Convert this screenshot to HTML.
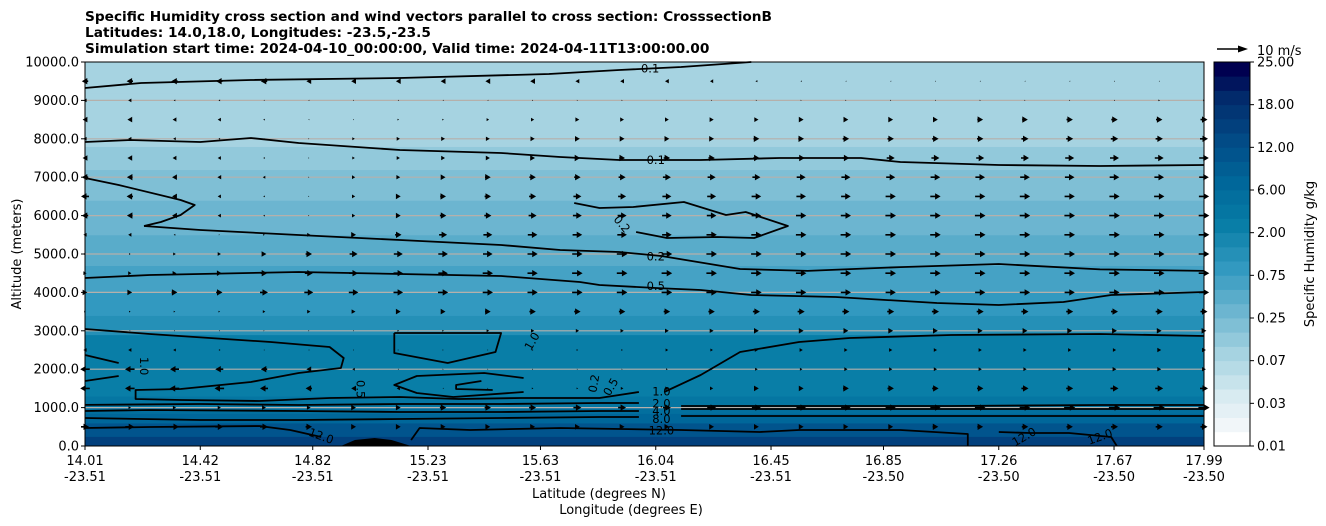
<!DOCTYPE html>
<html><head><meta charset="utf-8">
<style>
html,body{margin:0;padding:0;background:#fff;}
svg{display:block;font-family:"DejaVu Sans","Liberation Sans",sans-serif;}
</style></head>
<body>
<svg id="chart" width="1326" height="526" viewBox="0 0 1326 526" xmlns="http://www.w3.org/2000/svg">
  <g font-size="13.7" font-weight="bold" fill="#000">
    <text x="85" y="21">Specific Humidity cross section and wind vectors parallel to cross section: CrosssectionB</text>
    <text x="85" y="37">Latitudes: 14.0,18.0, Longitudes: -23.5,-23.5</text>
    <text x="85" y="53">Simulation start time: 2024-04-10_00:00:00, Valid time: 2024-04-11T13:00:00.00</text>
  </g>
  <g id="plot"></g>
  <g id="axes"></g>
  <g id="cbar"></g>
  <text x="599" y="498" font-size="13" text-anchor="middle">Latitude (degrees N)</text>
  <text x="631" y="514" font-size="13" text-anchor="middle">Longitude (degrees E)</text>
  <text transform="translate(21,254) rotate(-90)" font-size="13" text-anchor="middle">Altitude (meters)</text>
  <text transform="translate(1314,254) rotate(-90)" font-size="13" text-anchor="middle">Specific Humidity g/kg</text>
  <g>
    <line x1="1217" y1="49" x2="1240" y2="49" stroke="#000" stroke-width="1.6"/>
    <polygon points="1248,49 1238,45.5 1238,52.5" fill="#000"/>
    <text x="1257" y="55" font-size="13">10 m/s</text>
  </g>
</svg>
<script>
// ---- data ----
const levels = [0.01,0.015,0.02,0.03,0.04,0.05,0.07,0.1,0.15,0.25,0.35,0.5,0.75,1,1.5,2,3,4,6,8,10,12,14,16,18,20,22,25];
const cbarTickLabels = ["0.01","0.03","0.07","0.25","0.75","2.00","6.00","12.00","18.00","25.00"];
const cbarTickIdx = [0,3,6,9,12,15,18,21,24,27];
const bandAlt = [0,250,600,850,1000,1300,2200,2900,3400,4000,4700,5500,6400,7200,7800,8300,9200,10000];
const bandQ = [14,10,7,4,3,2.5,2.1,1.2,0.8,0.55,0.4,0.28,0.18,0.12,0.09,0.075,0.08];
const xTickLat = ["14.01","14.42","14.82","15.23","15.63","16.04","16.45","16.85","17.26","17.67","17.99"];
const xTickLon = ["-23.51","-23.51","-23.51","-23.51","-23.51","-23.51","-23.51","-23.50","-23.50","-23.50","-23.50"];
const xTickVal = [14.01,14.42,14.82,15.23,15.63,16.04,16.45,16.85,17.26,17.67,17.99];
const yTickVal = [0,1000,2000,3000,4000,5000,6000,7000,8000,9000,10000];
const windAlt = [9500,9000,8500,8000,7500,7000,6500,6000,5500,5000,4500,4000,3500,3000,2500,2000,1500,1000,500];
const windU = [
[-2,-2,-2,-2,-2,-1.5,-1.5,-1.5,-1.5,-1.5,-1.5,-1.2,-1.2,-1.2,-1,-0.6,-0.4,-0.3,-0.3,-0.3,-0.3,-0.3,-0.3,-0.3,-0.3,-0.3],
[-1,-1,-0.5,-0.5,-0.3,-0.3,-0.3,-0.3,-0.3,-0.3,0.3,0.3,0.3,0.3,0.3,0.3,0.3,0.3,0.3,0.3,0.3,0.3,0.3,0.3,0.5,0.5],
[-1.5,-1.5,-1.2,-1,-0.5,-0.3,0.3,0.5,0.5,0.8,1,1.2,1.2,1.2,1.3,1.3,1.5,1.5,1.5,1.5,1.8,1.8,2,2,2,2.2],
[-1,-1,-0.8,-0.5,-0.3,0.3,0.8,1,1.2,1.2,1.3,1.5,1.5,1.5,1.5,1.8,1.8,2,2,2,2,2.2,2.2,2.3,2.3,2.5],
[-1.5,-1.5,-1.2,-1,-0.5,0.3,0.8,1,1.2,1.3,1.5,1.8,1.8,2,2,2,2.2,2.2,2.5,2.5,2.5,2.5,2.8,2.8,2.8,3],
[-2,-1.8,-1.5,-1.2,-0.8,0.3,1,1.2,1.5,1.8,2,2,2.2,2.5,2.5,2.5,2.8,2.8,2.8,3,3,3,3,3,3,3],
[-2.5,-2,-1.5,-1,-0.5,0.3,1,1.5,1.8,2,2.2,2.5,2.5,2.8,2.8,3,3,3,3.2,3.2,3.2,3.2,3.2,3.2,3.2,3.2],
[-2,-1.8,-1.5,-1,-0.5,0.3,1,1.5,2,2.2,2.5,2.8,2.8,3,3,3,3.2,3.2,3.3,3.3,3.3,3.3,3.3,3.3,3.3,3.3],
[-1,-1,-0.5,0.3,0.5,1,1.5,2,2.5,2.8,3,3,3,3,3.2,3.2,3.3,3.3,3.3,3.3,3.3,3.3,3.3,3.3,3.3,3.3],
[0.5,0.5,0.8,1,1.5,2,2.5,2.8,3,3,3.2,3.2,3.3,3.3,3.3,3.3,3.3,3.3,3.3,3.3,3.3,3.3,3.3,3.3,3.3,3.3],
[1,1,1.2,1.5,2,2.5,2.8,3,3,3.2,3.2,3.3,3.3,3.3,3.3,3.3,3.3,3.3,3.3,3.3,3.3,3.3,3.3,3.3,3.3,3.3],
[1.5,1.5,1.8,2,2.5,2.8,3,3,3.2,3.2,3.2,3.3,3.3,3.3,3.3,3.3,3.2,3.2,3.2,3.2,3.2,3.2,3.2,3.2,3.2,3.2],
[0.5,0.5,0.5,0.5,0.8,1,1.2,1.5,1.5,1.8,2,2,2,2,2,2.2,2.2,2.2,2.2,2.2,2.2,2.2,2.2,2.2,2.2,2.2],
[-0.3,-0.3,-0.3,-0.3,0.3,0.3,0.3,0.5,0.5,0.8,1,1,1,1.2,1.2,1.5,1.5,1.5,1.5,1.5,1.5,1.5,1.5,1.5,1.5,1.5],
[-1,-1,-0.8,-0.5,-0.3,-0.3,0.3,0.3,0.3,0.3,0.5,0.5,0.5,0.8,0.8,1,1,1,1,1,1,1,1,1,1.2,1.2],
[-3,-3,-2.8,-2.5,-2,-1.5,-0.8,-0.3,0.3,0.3,0.3,0.3,0.3,0.5,0.5,0.8,0.8,1,1,1,1,1,1,1.2,1.2,1.2],
[-3,-3,-3,-3,-2.5,-2,-1.5,-1,-0.3,0.3,0.5,0.5,0.8,1,1,1.5,1.5,1.8,2,2,2,2.2,2.2,2.5,2.5,2.5],
[0.5,0.8,1,1,1.2,1.2,1.5,1.5,2,2,2.2,2.5,2.5,2.5,2.8,2.8,3,3,3.2,3.2,3.3,3.3,3.5,3.5,3.5,3.5],
[2.5,2.8,2.8,2.5,2.5,2,1.5,1.5,1.5,1.5,1.5,1.5,1.5,1.5,1.5,1.5,1.5,1.5,1.5,1.8,1.8,2,2,2.2,2.2,2.2]
];
const contourLat = [
[14.01,14.21,14.60,15.13,15.66,15.91,16.13,16.38],
[14.01,14.17,14.42,14.60,14.77,15.13,15.49,15.70,15.91,16.20,16.48,16.77,16.91,17.26,17.62,17.99],
[14.01,14.13,14.35,14.40,14.35,14.28,14.22],
[14.22,14.42,14.77,15.13,15.49,15.70,15.91,16.06,16.34,16.58,16.91,17.26,17.62,17.99],
[15.75,15.84,15.96,16.14,16.29,16.36,16.51,16.39,16.26,16.08,15.97],
[14.01,14.24,14.77,15.13,15.49,15.77,15.84,16.04,16.20,16.38,16.68,17.04,17.26,17.49,17.66,17.99],
[14.01,14.24,14.67,14.88,14.93,14.92,14.77,14.60,14.35,14.19,14.19,14.35,14.63,14.88,15.13,15.34,15.56,15.84,15.98],
[16.07,16.20,16.34,16.55,16.73,17.09,17.62,17.99],
[14.01,14.13],
[14.01,14.13],
[15.11,15.49,15.47,15.30,15.11,15.11],
[15.42,15.33,15.33,15.46],
[15.57,15.43,15.19,15.11,15.19,15.32,15.57],
[14.01,14.42,14.77,15.13,15.49,15.84,15.98],
[16.13,16.55,17.09,17.62,17.99],
[14.01,14.24,14.77,15.13,15.49,15.84,15.98],
[16.13,16.55,17.09,17.62,17.99],
[14.01,14.42,14.77,15.13,15.49,15.84,15.98],
[16.13,16.55,17.09,17.62,17.99],
[14.01,14.24,14.63,14.74,14.85],
[15.17,15.20,15.38,15.70,16.13,16.41,16.55,16.91,17.15,17.15],
[17.26,17.37,17.51,17.66,17.68]
];
const contourAlt = [
[9323,9453,9531,9583,9688,9792,9870,10000],
[7917,7969,7917,8021,7891,7708,7630,7526,7448,7448,7500,7500,7396,7318,7292,7318],
[6979,6797,6406,6276,6016,5833,5729],
[5729,5625,5495,5365,5234,5104,5052,4948,4610,4560,4660,4740,4600,4560],
[6328,6198,6224,6354,6016,6094,5729,5417,5443,5417,5573],
[4375,4453,4531,4479,4427,4271,4192,4114,4062,3932,3880,3724,3672,3750,3932,4010],
[3047,2917,2708,2578,2292,2031,1901,1667,1484,1458,1224,1198,1172,1250,1276,1224,1250,1250,1406],
[1406,1849,2448,2708,2812,2891,2917,2864],
[2370,2161],
[1693,1823],
[2943,2943,2448,2161,2422,2943],
[1693,1588,1484,1458],
[1771,1901,1823,1588,1380,1276,1406],
[1070,1094,1068,1094,1094,1120,1120],
[1042,1042,1042,1068,1068],
[911,937,911,885,885,911,911],
[963,963,963,963,963],
[729,677,677,703,729,755,755],
[781,781,781,781,781],
[469,495,521,417,234],
[156,469,417,469,417,365,417,417,312,0],
[365,339,339,234,0]
];
const hillLat = [14.92,14.97,15.04,15.10,15.17];
const hillAlt = [0,156,208,156,0];
const labelText = ["0.1","0.1","0.2","0.2","0.5","1.0","1.0","2.0","4.0","8.0","12.0","12.0","12.0","12.0","0.2","0.5","1.0","0.5"];
const labelLat = [16.02,16.04,15.92,16.04,16.04,16.06,15.60,16.06,16.06,16.06,14.85,16.06,17.35,17.62,15.82,15.88,14.22,14.99];
const labelAlt = [9830,7450,5780,4930,4170,1420,2730,1110,910,705,260,400,240,240,1630,1540,2080,1480];
const labelRot = [0,0,50,0,0,0,-60,0,0,0,20,0,-30,-20,-80,-60,90,90];

// ---- axes ----
const X0=85,X1=1204,Y0=446,Y1=62;
const xS = lat => X0 + (lat-14.01)/(17.99-14.01)*(X1-X0);
const yS = alt => Y0 - alt/10000*(Y0-Y1);
const NS="http://www.w3.org/2000/svg";
function mk(tag, attrs, parent){const e=document.createElementNS(NS,tag);for(const k in attrs)e.setAttribute(k,attrs[k]);parent.appendChild(e);return e;}
const stops=[[0,[255,255,255]],[0.04,[240,246,249]],[0.12,[214,234,240]],[0.23,[166,211,225]],[0.35,[106,180,207]],[0.46,[51,153,192]],[0.58,[8,125,166]],[0.69,[0,104,154]],[0.81,[2,74,134]],[0.92,[2,44,108]],[1,[0,0,80]]];
function cmap(t){for(let i=1;i<stops.length;i++){if(t<=stops[i][0]){const a=stops[i-1],b=stops[i];const f=(t-a[0])/(b[0]-a[0]);const c=a[1].map((v,j)=>Math.round(v+(b[1][j]-v)*f));return `rgb(${c[0]},${c[1]},${c[2]})`;}}return 'rgb(0,0,80)';}
const nb=levels.length-1;
function qColor(q){let i=0;while(i<nb-1&&q>=levels[i+1])i++;return cmap(i/(nb-1));}

const plot=document.getElementById('plot');
bandQ.forEach((q,i)=>{
  const r=mk('rect',{x:X0,y:yS(bandAlt[i+1]),width:X1-X0,height:yS(bandAlt[i])-yS(bandAlt[i+1])+0.5,fill:qColor(q)},plot);
  
  
});
yTickVal.forEach((v,i)=>{ if(i===0||i===yTickVal.length-1)return;
  const l=mk('line',{x1:X0,x2:X1,y1:yS(v),y2:yS(v),stroke:'#b5b0ab','stroke-width':1.2},plot);
  
  
});
contourLat.forEach((lats,i)=>{
  const pts=lats.map((la,j)=>xS(la).toFixed(1)+','+yS(contourAlt[i][j]).toFixed(1)).join(' ');
  const p=mk('polyline',{points:pts,fill:'none',stroke:'#000','stroke-width':1.8,'stroke-linejoin':'round'},plot);
  
  
});
const hill=mk('polygon',{points:hillLat.map((la,j)=>xS(la)+','+yS(hillAlt[j])).join(' '),fill:'#000'},plot);


labelText.forEach((t,i)=>{
  const x=xS(labelLat[i]),y=yS(labelAlt[i]);
  const e=mk('text',{x:x,y:y+4,'font-size':11.5,'text-anchor':'middle',transform:`rotate(${labelRot[i]},${x},${y})`},plot);
  e.textContent=t;
  
  
});
// wind arrows
const nCol=windU[0].length;
windAlt.forEach((alt,r)=>{
  for(let c=0;c<nCol;c++){
    const u=windU[r][c];
    const x=X0+c*(X1-X0)/(nCol-1), y=yS(alt);
    let L=Math.abs(u)*3.2, hl=5.5, hw=3.2, sw=0.8;
    let s=1; if(L<hl){s=L/hl;}
    const d=u<0?-1:1;
    const tip=x+d*L/2, tail=x-d*L/2, hb=tip-d*hl*s;
    const pts=[[tail,y-sw*s],[hb,y-sw*s],[hb,y-hw*s],[tip,y],[hb,y+hw*s],[hb,y+sw*s],[tail,y+sw*s]].map(p=>p[0].toFixed(1)+','+p[1].toFixed(1)).join(' ');
    const a=mk('polygon',{points:pts,fill:'#000'},plot);
    
    
  }
});
// axes frame & ticks
const axes=document.getElementById('axes');
const fr=mk('rect',{x:X0,y:Y1,width:X1-X0,height:Y0-Y1,fill:'none',stroke:'#000','stroke-width':1},axes);


yTickVal.forEach(v=>{
  const y=yS(v);
  mk('line',{x1:X0-4,x2:X0,y1:y,y2:y,stroke:'#000'},axes);
  const t=mk('text',{x:X0-6,y:y+4.5,'font-size':13,'text-anchor':'end'},axes);
  t.textContent=v.toFixed(1);
  
  
});
xTickVal.forEach((v,i)=>{
  const x=xS(v);
  mk('line',{x1:x,x2:x,y1:Y0,y2:Y0+4,stroke:'#000'},axes);
  const t=mk('text',{x:x,y:Y0+19,'font-size':13,'text-anchor':'middle'},axes);
  t.textContent=xTickLat[i];
  
  
  const t2=mk('text',{x:x,y:Y0+35,'font-size':13,'text-anchor':'middle'},axes);
  t2.textContent=xTickLon[i];
  
  
});
// colorbar
const cb=document.getElementById('cbar');
const CX=1214,CW=36,CB=446,CT=62,bh=(CB-CT)/nb;
for(let i=0;i<nb;i++){
  const r=mk('rect',{x:CX,y:CB-(i+1)*bh,width:CW,height:bh+0.4,fill:cmap(i/(nb-1))},cb);
  
  
}
mk('rect',{x:CX,y:CT,width:CW,height:CB-CT,fill:'none',stroke:'#000','stroke-width':1},cb);
cbarTickIdx.forEach((k,i)=>{
  const y=CB-k*bh;
  mk('line',{x1:CX+CW,x2:CX+CW+4,y1:y,y2:y,stroke:'#000'},cb);
  const t=mk('text',{x:CX+CW+7,y:y+4.5,'font-size':13},cb);
  t.textContent=cbarTickLabels[i];
  
  
});
</script>
</body></html>
